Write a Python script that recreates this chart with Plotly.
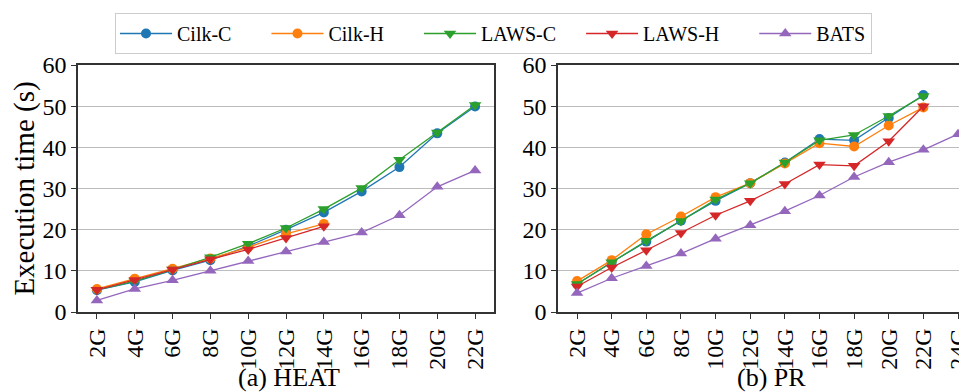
import plotly.graph_objects as go

# ---------------- data ----------------
heat_sizes = ["2G", "4G", "6G", "8G", "10G", "12G", "14G", "16G", "18G", "20G", "22G"]
pr_sizes = ["2G", "4G", "6G", "8G", "10G", "12G", "14G", "16G", "18G", "20G", "22G", "24G"]

heat_cilk_c = [5.3, 7.3, 10.1, 12.6, 16.0, 20.0, 24.2, 29.3, 35.2, 43.4, 49.9]
heat_cilk_h = [5.6, 8.1, 10.5, 13.0, 15.7, 19.0, 21.4]
heat_laws_c = [5.4, 7.5, 10.3, 13.3, 16.6, 20.4, 25.0, 30.1, 37.0, 43.6, 50.3]
heat_laws_h = [5.4, 7.8, 10.3, 12.8, 15.2, 18.0, 20.8]
heat_bats = [2.8, 5.6, 7.7, 10.0, 12.4, 14.7, 17.0, 19.3, 23.5, 30.4, 34.4]

pr_cilk_c = [6.8, 12.1, 17.1, 22.2, 27.0, 31.3, 36.3, 42.0, 41.7, 47.1, 52.7]
pr_cilk_h = [7.5, 12.6, 18.9, 23.2, 27.9, 31.3, 36.1, 41.0, 40.2, 45.3, 49.7]
pr_laws_c = [6.8, 12.1, 17.3, 22.1, 27.3, 31.3, 36.3, 41.7, 43.0, 47.6, 52.5]
pr_laws_h = [6.2, 10.8, 15.0, 19.2, 23.5, 27.0, 31.1, 35.8, 35.5, 41.5, 50.0]
pr_bats = [4.6, 8.2, 11.2, 14.2, 17.8, 21.1, 24.5, 28.3, 32.8, 36.4, 39.4, 43.2]

series_names = ["Cilk-C", "Cilk-H", "LAWS-C", "LAWS-H", "BATS"]
colors = ["#1f77b4", "#ff7f0e", "#2ca02c", "#d62728", "#9467bd"]
symbols = ["circle", "circle", "triangle-down", "triangle-down", "triangle-up"]
marker_sizes = [10, 10, 11, 11, 11]
legend_pads = [6, 6, 4, 6, 0]

heat_series = [heat_cilk_c, heat_cilk_h, heat_laws_c, heat_laws_h, heat_bats]
pr_series = [pr_cilk_c, pr_cilk_h, pr_laws_c, pr_laws_h, pr_bats]

subplot_titles = ["(a) HEAT", "(b) PR"]
y_title = "Execution time (s)"

# ---------------- figure ----------------
FONT = "Liberation Serif"
OFF = 8  # page body margin offset
W, H = 967 - OFF, 392 - OFF
NBSP = "\u00a0"
fig = go.Figure()

for i, name in enumerate(series_names):
    vals = heat_series[i]
    fig.add_trace(go.Scatter(
        x=heat_sizes[:len(vals)], y=vals, name=name + NBSP * legend_pads[i],
        mode="lines+markers",
        line=dict(color=colors[i], width=1.3),
        marker=dict(color=colors[i], symbol=symbols[i], size=marker_sizes[i]),
        xaxis="x", yaxis="y", legendgroup=name, showlegend=True))
for i, name in enumerate(series_names):
    vals = pr_series[i]
    fig.add_trace(go.Scatter(
        x=pr_sizes[:len(vals)], y=vals, name=name, mode="lines+markers",
        line=dict(color=colors[i], width=1.3),
        marker=dict(color=colors[i], symbol=symbols[i], size=marker_sizes[i]),
        xaxis="x2", yaxis="y2", legendgroup=name, showlegend=False))

axis_common = dict(
    showline=True, linecolor="#333333", linewidth=1.5, mirror=True,
    ticks="outside", ticklen=5, tickwidth=1.2, tickcolor="#333333",
    tickfont=dict(family=FONT, size=24, color="black"),
    automargin=False,
)

def px(x):
    return (x - OFF) / W

plot_top, plot_bottom = 65 - OFF, 312.5 - OFF
mt = plot_top
mb = H - plot_bottom

fig.update_layout(
    width=W, height=H,
    margin=dict(l=0, r=0, t=mt, b=mb, pad=0, autoexpand=False),
    paper_bgcolor="white", plot_bgcolor="white",
    font=dict(family=FONT, size=20, color="black"),
    xaxis=dict(domain=[px(78), px(494)], type="category", categoryorder="array",
               categoryarray=heat_sizes, range=[-0.5, 10.5], tickangle=-90,
               showgrid=False, anchor="y", **axis_common),
    yaxis=dict(range=[0, 60], tickvals=[0, 10, 20, 30, 40, 50, 60], showgrid=True,
               gridcolor="#bdbdbd", gridwidth=1, zeroline=False, anchor="x",
               title=dict(text=y_title, font=dict(family=FONT, size=29), standoff=8),
               **axis_common),
    xaxis2=dict(domain=[px(558), 1.0], type="category", categoryorder="array",
                categoryarray=pr_sizes, range=[-0.55, 11.26], tickangle=-90,
                showgrid=False, anchor="y2", **axis_common),
    yaxis2=dict(range=[0, 60], tickvals=[0, 10, 20, 30, 40, 50, 60], showgrid=True,
                gridcolor="#bdbdbd", gridwidth=1, zeroline=False, anchor="x2",
                **axis_common),
    legend=dict(orientation="h", xref="container", yref="container",
                x=px(115), xanchor="left",
                y=1 - (13 - OFF) / H, yanchor="top",
                bordercolor="#cccccc", borderwidth=1, bgcolor="white",
                font=dict(family=FONT, size=20), itemwidth=52,
                tracegroupgap=0),
    showlegend=True,
)

ph = plot_bottom - plot_top
title_y = (plot_bottom - (378 - OFF)) / ph
fig.add_annotation(text=subplot_titles[0], x=px(289), y=title_y,
                   xref="paper", yref="paper", showarrow=False,
                   xanchor="center", yanchor="middle",
                   font=dict(family=FONT, size=26))
fig.add_annotation(text=subplot_titles[1], x=px(771), y=title_y,
                   xref="paper", yref="paper", showarrow=False,
                   xanchor="center", yanchor="middle",
                   font=dict(family=FONT, size=26))

fig.write_html("out.html")
